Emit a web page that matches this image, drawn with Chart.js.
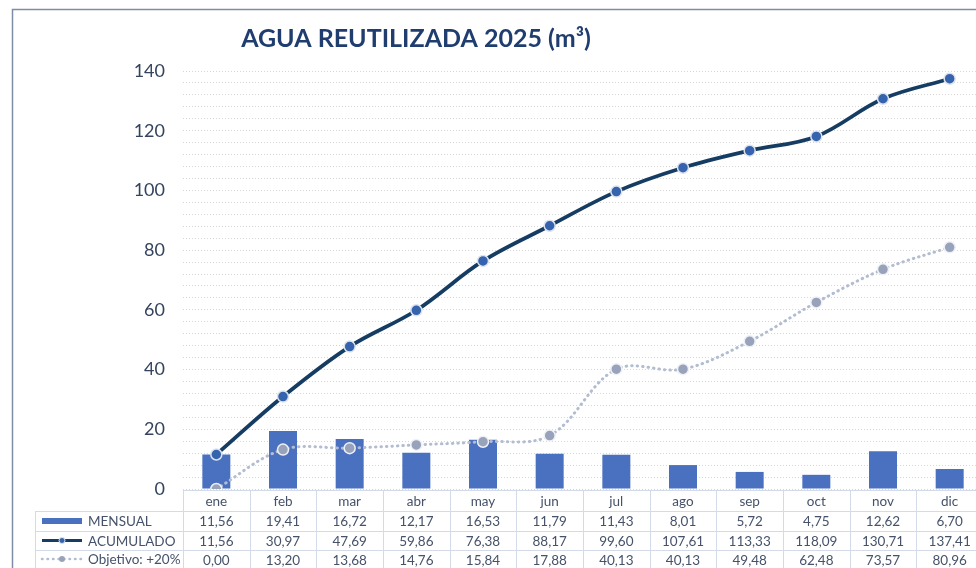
<!DOCTYPE html>
<html>
<head>
<meta charset="utf-8">
<script src="https://cdn.jsdelivr.net/npm/chart.js@4.4.1/dist/chart.umd.min.js"></script>
<style>
  html, body { margin: 0; padding: 0; background: #ffffff; overflow: hidden; width: 976px; height: 568px; }
  #wrap { position: absolute; left: 0; top: 0; width: 990px; height: 568px; }
</style>
</head>
<body>
<div id="wrap"><canvas id="c" width="990" height="568"></canvas></div>
<script>
const categories = ['ene','feb','mar','abr','may','jun','jul','ago','sep','oct','nov','dic'];
const mensual   = [11.56, 19.41, 16.72, 12.17, 16.53, 11.79, 11.43, 8.01, 5.72, 4.75, 12.62, 6.70];
const acumulado = [11.56, 30.97, 47.69, 59.86, 76.38, 88.17, 99.60, 107.61, 113.33, 118.09, 130.71, 137.41];
const objetivo  = [0.00, 13.20, 13.68, 14.76, 15.84, 17.88, 40.13, 40.13, 49.48, 62.48, 73.57, 80.96];
const seriesNames = ['MENSUAL', 'ACUMULADO', 'Objetivo: +20%'];
const titleText = 'AGUA REUTILIZADA 2025 (m³)';

const C_BAR = '#4a70c0';
const C_ACU = '#153d63';
const C_ACU_PT = '#3563ad';
const C_OBJ = '#b3bdd1';
const C_OBJ_PT = '#98a3bb';
const C_TEXT = '#45526a';
const C_GRIDT = '#d3dbe8';
const FONT = 'Lato, "Open Sans", sans-serif';

function fmt(v) { return v.toFixed(2).replace('.', ','); }

const decorPlugin = {
  id: 'decor',
  beforeDraw(chart) {
    const ctx = chart.ctx;
    ctx.save();
    ctx.fillStyle = '#ffffff';
    ctx.fillRect(0, 0, chart.width, chart.height);
    ctx.restore();
  },
  afterDraw(chart) {
    const ctx = chart.ctx;
    const xs = chart.scales.x;
    const area = chart.chartArea;
    ctx.save();
    ctx.strokeStyle = '#7d8da8';
    ctx.lineWidth = 1.5;
    ctx.strokeRect(12.5, 9.5, 1200, 800);
    ctx.fillStyle = '#1f3d6e';
    ctx.font = 'bold 25px ' + FONT;
    ctx.textAlign = 'center';
    ctx.textBaseline = 'middle';
    ctx.fillText(titleText, 416, 39);

    const rowTops = [490, 511, 531, 550, 570];
    const labelLeft = 35;
    const left = area.left, right = area.right;
    const colW = (right - left) / categories.length;
    ctx.strokeStyle = C_GRIDT;
    ctx.lineWidth = 1;
    ctx.beginPath();
    ctx.moveTo(left, rowTops[0] + 0.5); ctx.lineTo(right, rowTops[0] + 0.5);
    for (let r = 1; r < rowTops.length; r++) {
      ctx.moveTo(labelLeft, rowTops[r] + 0.5); ctx.lineTo(right, rowTops[r] + 0.5);
    }
    for (let i = 0; i <= categories.length; i++) {
      const x = Math.round(left + i * colW) + 0.5;
      ctx.moveTo(x, rowTops[0]); ctx.lineTo(x, rowTops[4]);
    }
    ctx.moveTo(labelLeft + 0.5, rowTops[1]); ctx.lineTo(labelLeft + 0.5, rowTops[4]);
    ctx.stroke();

    ctx.fillStyle = C_TEXT;
    ctx.font = '13.5px ' + FONT;
    ctx.textAlign = 'center';
    ctx.textBaseline = 'middle';
    const rows = [mensual, acumulado, objetivo];
    categories.forEach((c, i) => {
      const cx = xs.getPixelForValue(i);
      ctx.fillText(c, cx, (rowTops[0] + rowTops[1]) / 2 + 1);
      rows.forEach((arr, r) => {
        ctx.fillText(fmt(arr[i]), cx, (rowTops[r + 1] + rowTops[r + 2]) / 2 + 1);
      });
    });

    ctx.textAlign = 'left';
    const k0 = 42, k1 = 82, tx = 88;
    let cy = (rowTops[1] + rowTops[2]) / 2;
    ctx.fillStyle = C_BAR;
    ctx.fillRect(k0, cy - 3, k1 - k0, 6);
    ctx.fillStyle = C_TEXT;
    ctx.fillText(seriesNames[0], tx, cy + 1);
    cy = (rowTops[2] + rowTops[3]) / 2;
    ctx.strokeStyle = C_ACU; ctx.lineWidth = 3;
    ctx.beginPath(); ctx.moveTo(k0, cy); ctx.lineTo(k1, cy); ctx.stroke();
    ctx.fillStyle = C_ACU_PT; ctx.strokeStyle = '#dfe5ef'; ctx.lineWidth = 1;
    ctx.beginPath(); ctx.arc((k0 + k1) / 2, cy, 3, 0, Math.PI * 2); ctx.fill(); ctx.stroke();
    ctx.fillStyle = C_TEXT;
    ctx.fillText(seriesNames[1], tx, cy + 1);
    cy = (rowTops[3] + rowTops[4]) / 2 - 1;
    ctx.strokeStyle = C_OBJ; ctx.lineWidth = 2.5; ctx.lineCap = 'round';
    ctx.setLineDash([0.5, 5]);
    ctx.beginPath(); ctx.moveTo(k0, cy); ctx.lineTo(k1, cy); ctx.stroke();
    ctx.setLineDash([]);
    ctx.fillStyle = C_OBJ_PT;
    ctx.beginPath(); ctx.arc((k0 + k1) / 2, cy, 3, 0, Math.PI * 2); ctx.fill();
    ctx.fillStyle = C_TEXT;
    ctx.fillText(seriesNames[2], tx, cy + 1);
    ctx.restore();
  }
};

new Chart(document.getElementById('c'), {
  data: {
    labels: categories,
    datasets: [
      {
        type: 'line', label: seriesNames[1], data: acumulado, order: 1,
        borderColor: C_ACU, borderWidth: 3.8, tension: 0.35,
        pointRadius: 5.5, pointBackgroundColor: C_ACU_PT, pointBorderColor: '#dde3ee', pointBorderWidth: 1.5,
        fill: false
      },
      {
        type: 'line', label: seriesNames[2], data: objetivo, order: 2,
        borderColor: C_OBJ, borderWidth: 3, borderDash: [0.5, 5], borderCapStyle: 'round', tension: 0.35,
        pointRadius: 5.5, pointBackgroundColor: C_OBJ_PT, pointBorderColor: '#eef1f6', pointBorderWidth: 1.5,
        fill: false
      },
      {
        type: 'bar', label: seriesNames[0], data: mensual, order: 3,
        backgroundColor: C_BAR, categoryPercentage: 1, barPercentage: 0.42
      }
    ]
  },
  options: {
    responsive: false,
    animation: false,
    layout: { padding: { top: 71, bottom: 79, left: 0, right: 0 } },
    plugins: { legend: { display: false }, tooltip: { enabled: false }, title: { display: false } },
    scales: {
      x: { display: false, offset: true, grid: { display: false } },
      y: {
        min: 0, max: 140,
        afterFit(scale) { scale.width = 183; },
        border: { display: false, dash: [1, 2] },
        grid: { color: '#d6d6d6', lineWidth: 1, drawTicks: false },
        ticks: {
          stepSize: 4, maxTicksLimit: 100, autoSkip: false, padding: 18, color: '#34445e',
          font: { family: FONT, size: 18 },
          callback: (v) => (v % 20 === 0 ? String(v) : '')
        }
      }
    }
  },
  plugins: [decorPlugin]
});
</script>
</body>
</html>
